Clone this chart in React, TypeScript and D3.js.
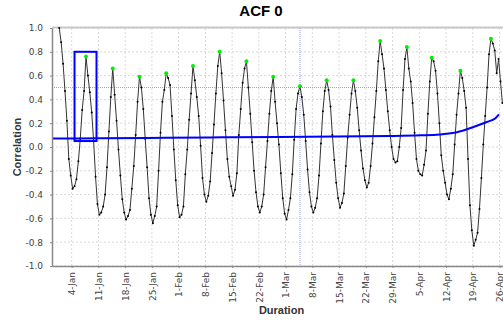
import { useEffect, useRef } from "react"
import * as d3 from "d3"

const title = "ACF 0"
const xTitle = "Duration"
const yTitle = "Correlation"

// lag 0 of the autocorrelation, one sample every 12 hours
const lagStart = "2014-12-31 18:00"
const lagStepDays = 0.5

const acf = [
  1.0, 0.88, 0.70, 0.47, 0.22, -0.10, -0.24, -0.35, -0.33, -0.27, -0.12, 0.07, 0.31, 0.47,
  0.76, 0.60, 0.46, 0.29, 0.05, -0.25, -0.48, -0.57, -0.55, -0.50, -0.40, -0.17, 0.13, 0.42,
  0.66, 0.44, 0.22, -0.02, -0.24, -0.44, -0.55, -0.61, -0.58, -0.53, -0.35, -0.16, 0.10, 0.38,
  0.59, 0.50, 0.32, 0.07, -0.17, -0.43, -0.57, -0.64, -0.58, -0.50, -0.20, 0.12, 0.38, 0.48,
  0.62, 0.58, 0.52, 0.26, -0.02, -0.28, -0.49, -0.59, -0.57, -0.50, -0.23, -0.02, 0.23, 0.45,
  0.68, 0.56, 0.42, 0.26, 0.01, -0.26, -0.40, -0.46, -0.41, -0.29, -0.05, 0.19, 0.45, 0.68,
  0.80, 0.62, 0.39, 0.14, -0.10, -0.25, -0.33, -0.41, -0.36, -0.22, 0.10, 0.32, 0.54, 0.66,
  0.72, 0.50, 0.28, 0.04, -0.20, -0.38, -0.50, -0.55, -0.50, -0.40, -0.17, 0.05, 0.28, 0.47,
  0.59, 0.38, 0.20, 0.02, -0.22, -0.43, -0.56, -0.61, -0.53, -0.43, -0.23, 0.06, 0.32, 0.45,
  0.51, 0.42, 0.27, 0.05, -0.19, -0.38, -0.50, -0.55, -0.51, -0.43, -0.24, 0.03, 0.30, 0.47,
  0.56, 0.48, 0.34, 0.10, -0.11, -0.30, -0.43, -0.51, -0.47, -0.39, -0.16, 0.08, 0.27, 0.45,
  0.56, 0.47, 0.33, 0.14, -0.03, -0.18, -0.28, -0.34, -0.30, -0.16, 0.03, 0.25, 0.47, 0.72,
  0.89, 0.78, 0.66, 0.48, 0.30, 0.14, 0.00, -0.10, -0.13, -0.12, 0.00, 0.16, 0.48, 0.74,
  0.84, 0.66, 0.55, 0.37, 0.12, -0.10, -0.20, -0.23, -0.24, -0.15, -0.03, 0.28, 0.55, 0.75,
  0.72, 0.64, 0.45, 0.20, -0.07, -0.20, -0.30, -0.40, -0.44, -0.35, -0.23, 0.02, 0.27, 0.45,
  0.64, 0.58, 0.47, 0.33, -0.10, -0.49, -0.70, -0.83, -0.78, -0.72, -0.52, -0.26, 0.02, 0.26,
  0.50, 0.78, 0.91, 0.87, 0.81, 0.62, 0.74, 0.55, 0.37,
]

// weekly maxima (green markers), in days of lag
const peakLags = [7, 14, 21, 28, 35, 42, 49, 56, 63, 70, 77, 84, 91, 97.5, 105, 113]

// significance bound (blue curve)
const boundLags = [-1.9, 10.6, 27.6, 42.6, 57.2, 72.2, 86.5, 94.5, 99.6, 104.1, 108.4, 111.9, 114.1, 115.1]
const boundValues = [0.072, 0.073, 0.077, 0.081, 0.085, 0.088, 0.092, 0.098, 0.106, 0.124, 0.168, 0.21, 0.24, 0.275]

// highlighted first season
const boxLags = [4, 9.75]
const boxValues = [0.05, 0.8]

const thresholdValue = 0.5
const thresholdLag = 63

const xDomain = ["2014-12-29 20:24", "2015-04-29 00:00"]
const tickLabels = ["4-Jan", "11-Jan", "18-Jan", "25-Jan", "1-Feb", "8-Feb", "15-Feb", "22-Feb",
  "1-Mar", "8-Mar", "15-Mar", "22-Mar", "29-Mar", "5-Apr", "12-Apr", "19-Apr", "26-Apr"]
const yTicks = [-1.0, -0.8, -0.6, -0.4, -0.2, 0.0, 0.2, 0.4, 0.6, 0.8, 1.0]

export default function App() {
  const ref = useRef<SVGSVGElement | null>(null)

  useEffect(() => {
    document.body.style.margin = "0"
    const svg = d3.select(ref.current)
    svg.selectAll("*").remove()

    const width = 503
    const height = 320
    const plot = { left: 52, right: 511, top: 28, bottom: 266 }

    const parse = d3.timeParse("%Y-%m-%d %H:%M")
    const start = parse(lagStart)!
    const lagDate = (l: number) => new Date(start.getTime() + l * 86400000)
    const tickParse = d3.timeParse("%d-%b-%Y")
    const tickDates = tickLabels.map(t => tickParse(t + "-2015")!)

    const x = d3.scaleTime()
      .domain(xDomain.map(d => parse(d)!))
      .range([plot.left, plot.right])

    const y = d3.scaleLinear()
      .domain([-1, 1])
      .range([plot.bottom, plot.top])

    svg.attr("width", width).attr("height", height)
      .style("display", "block")
      .style("background", "#fff")

    svg.append("defs").append("clipPath").attr("id", "plotclip")
      .append("rect")
      .attr("x", plot.left).attr("y", plot.top - 3)
      .attr("width", plot.right - plot.left).attr("height", plot.bottom - plot.top + 3)

    // grid
    const grid = svg.append("g")
    grid.selectAll("line.gx").data(tickDates).enter().append("line")
      .attr("x1", d => x(d)).attr("x2", d => x(d))
      .attr("y1", plot.top).attr("y2", plot.bottom)
      .attr("stroke", "#d9d9d9").attr("stroke-dasharray", "2,2")
    grid.selectAll("line.gy").data(yTicks).enter().append("line")
      .attr("x1", plot.left).attr("x2", plot.right)
      .attr("y1", d => y(d)).attr("y2", d => y(d))
      .attr("stroke", "#d9d9d9").attr("stroke-dasharray", "2,2")

    // plot outline
    svg.append("line")
      .attr("x1", plot.left).attr("x2", plot.right)
      .attr("y1", plot.top - 0.5).attr("y2", plot.top - 0.5)
      .attr("stroke", "#c8c8c8").attr("stroke-width", 2)

    const body = svg.append("g").attr("clip-path", "url(#plotclip)")

    // threshold markers
    body.append("line")
      .attr("x1", plot.left).attr("x2", plot.right)
      .attr("y1", y(thresholdValue)).attr("y2", y(thresholdValue))
      .attr("stroke", "#9a9aff").attr("stroke-dasharray", "1,1")
    body.append("line")
      .attr("x1", x(lagDate(thresholdLag))).attr("x2", x(lagDate(thresholdLag)))
      .attr("y1", plot.top).attr("y2", plot.bottom)
      .attr("stroke", "#9a9aff").attr("stroke-dasharray", "1,1")

    // ACF series
    const points = acf.map((v, i) => ({ lag: i * lagStepDays, v }))
    const line = d3.line<{ lag: number, v: number }>()
      .x(d => x(lagDate(d.lag)))
      .y(d => y(d.v))

    body.append("path")
      .datum(points)
      .attr("d", line)
      .attr("fill", "none")
      .attr("stroke", "#333")
      .attr("stroke-width", 1)

    body.selectAll("circle.pt").data(points).enter().append("circle")
      .attr("cx", d => x(lagDate(d.lag)))
      .attr("cy", d => y(d.v))
      .attr("r", 1)
      .attr("fill", "#000")

    // bound curve
    const bound = boundLags.map((l, i) => ({ lag: l, v: boundValues[i] }))
    body.append("path")
      .datum(bound)
      .attr("d", line.curve(d3.curveMonotoneX))
      .attr("fill", "none")
      .attr("stroke", "#0000ff")
      .attr("stroke-width", 2)

    // peaks
    body.selectAll("circle.pk").data(peakLags).enter().append("circle")
      .attr("cx", d => x(lagDate(d)))
      .attr("cy", d => y(acf[Math.round(d / lagStepDays)]))
      .attr("r", 2)
      .attr("fill", "#00ee00")

    // highlight box
    body.append("rect")
      .attr("x", x(lagDate(boxLags[0])))
      .attr("y", y(boxValues[1]))
      .attr("width", x(lagDate(boxLags[1])) - x(lagDate(boxLags[0])))
      .attr("height", y(boxValues[0]) - y(boxValues[1]))
      .attr("fill", "none")
      .attr("stroke", "#0000ff")
      .attr("stroke-width", 2)

    // X Axis
    const xAxis = svg.append("g")
      .attr("transform", `translate(0,${plot.bottom})`)
      .call(d3.axisBottom(x).tickValues(tickDates).tickFormat((_, i) => tickLabels[i]).tickSizeInner(2).tickSizeOuter(0))

    xAxis.select("path").attr("stroke", "#888").attr("stroke-width", 1.5)
    xAxis.selectAll("line").attr("stroke", "#888")
    xAxis.selectAll("text")
      .attr("transform", "rotate(-90)")
      .attr("x", -6)
      .attr("y", 0)
      .attr("dy", "0.35em")
      .style("text-anchor", "end")
      .style("fill", "#444")
      .style("font-family", "DejaVu Sans")
      .style("font-size", "9px")

    // Y Axis
    const yAxis = svg.append("g")
      .attr("transform", `translate(${plot.left},0)`)
      .call(d3.axisLeft(y).tickValues(yTicks).tickFormat(d => (+d).toFixed(1)).tickSizeInner(2).tickSizeOuter(0).tickPadding(7))

    yAxis.select("path").attr("stroke", "#888").attr("stroke-width", 1.5)
    yAxis.selectAll("line").attr("stroke", "#888")
    yAxis.selectAll("text")
      .style("fill", "#444")
      .style("font-family", "DejaVu Sans")
      .style("font-size", "9px")

    // titles
    svg.append("text")
      .attr("x", 261).attr("y", 16)
      .attr("text-anchor", "middle")
      .style("font-family", "Liberation Sans")
      .style("font-weight", "bold")
      .style("font-size", "15px")
      .text(title)

    svg.append("text")
      .attr("x", (plot.left + plot.right) / 2).attr("y", 314)
      .attr("text-anchor", "middle")
      .style("font-family", "Liberation Sans")
      .style("font-weight", "bold")
      .style("font-size", "11px")
      .style("fill", "#333")
      .text(xTitle)

    svg.append("text")
      .attr("transform", `translate(21,${y(0)}) rotate(-90)`)
      .attr("text-anchor", "middle")
      .style("font-family", "Liberation Sans")
      .style("font-weight", "bold")
      .style("font-size", "11px")
      .style("fill", "#333")
      .text(yTitle)
  }, [])

  return <svg ref={ref} />
}
